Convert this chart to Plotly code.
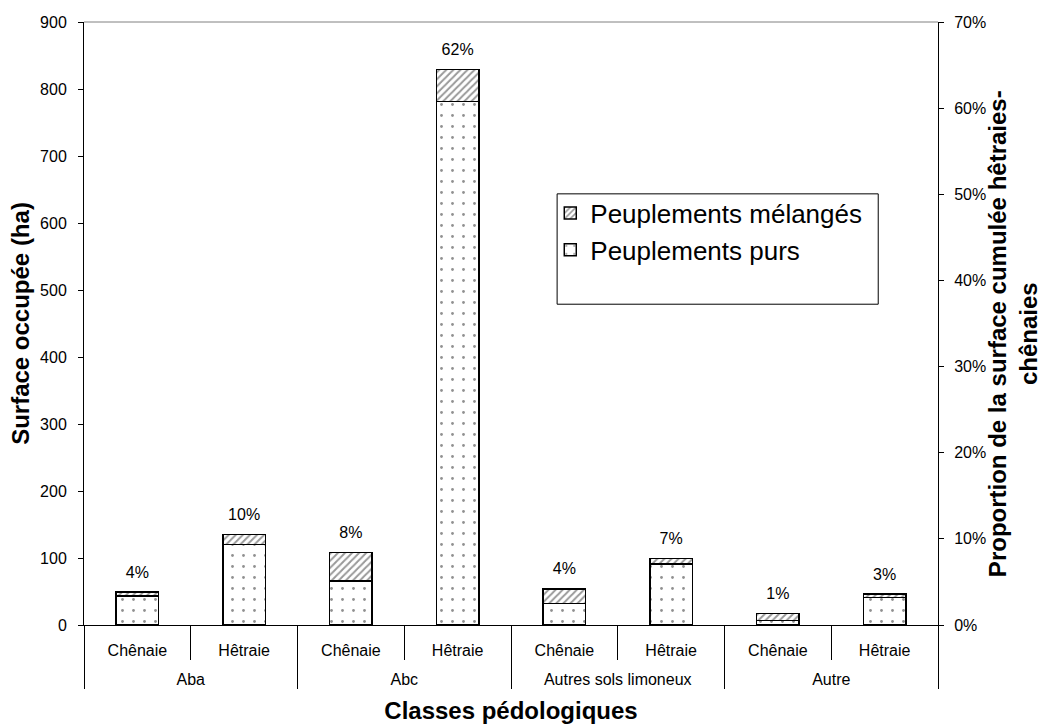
import plotly.graph_objects as go

groups = ["Aba", "Aba", "Abc", "Abc", "Autres sols limoneux", "Autres sols limoneux", "Autre", "Autre"]
types = ["Chênaie", "Hêtraie"] * 4
pure = [43, 120, 66, 781, 32, 91, 7, 41]
mixed = [6, 15, 42, 48, 22, 8, 10, 5]
pct_labels = ["4%", "10%", "8%", "62%", "4%", "7%", "1%", "3%"]

totals = [p + m for p, m in zip(pure, mixed)]
group_display = ["<br>" + g for g in groups]
x = [group_display, types]
font = "Liberation Sans, Arial, sans-serif"

fig = go.Figure()
fig.add_trace(go.Bar(
    x=x, y=pure, name="Peuplements purs", width=0.40,
    marker=dict(color="white", line=dict(color="black", width=1.5),
                pattern=dict(shape=".", fgcolor="#222222", bgcolor="white", size=11, solidity=0.05)),
))
fig.add_trace(go.Bar(
    x=x, y=mixed, name="Peuplements mélangés", width=0.40,
    marker=dict(color="white", line=dict(color="black", width=1.5),
                pattern=dict(shape="/", fgcolor="#333333", bgcolor="white", size=5, solidity=0.4)),
))
fig.add_trace(go.Scatter(
    x=x, y=totals, mode="markers+text", text=pct_labels, textposition="top center",
    marker=dict(size=15, opacity=0), showlegend=False, hoverinfo="skip",
    textfont=dict(family=font, size=16, color="black"),
))
fig.add_trace(go.Scatter(x=x, y=[None] * 8, yaxis="y2", showlegend=False, hoverinfo="skip"))

fig.update_layout(
    width=1045, height=726,
    barmode="stack",
    plot_bgcolor="white", paper_bgcolor="white",
    margin=dict(l=84, r=107, t=22, b=101),
    font=dict(family=font, size=16, color="black"),
    showlegend=True,
    legend=dict(x=0.546, y=0.722, xanchor="left", yanchor="top", traceorder="reversed",
                font=dict(size=26, family=font), bgcolor="rgba(0,0,0,0)", borderwidth=0,
                tracegroupgap=0),
    xaxis=dict(type="multicategory", showline=True, linecolor="black", linewidth=1,
               ticks="outside", tickson="boundaries", ticklen=34, tickcolor="black",
               showdividers=True, dividercolor="black", dividerwidth=1,
               tickfont=dict(size=16, family=font), showgrid=False, automargin=False,
               ticklabelstandoff=11,
               title=dict(text="<b>Classes pédologiques</b>", font=dict(size=24, family=font), standoff=15)),
    yaxis=dict(range=[0, 900], dtick=100, showline=True, linecolor="black", linewidth=1,
               ticks="outside", ticklen=5, tickcolor="black", showgrid=False, zeroline=False,
               tickfont=dict(size=16, family=font), automargin=False, ticklabelstandoff=8,
               title=dict(text="<b>Surface occupée (ha)</b>", font=dict(size=24, family=font), standoff=3)),
    yaxis2=dict(range=[0, 0.7], dtick=0.1, tickformat=".0%", overlaying="y", side="right",
                showline=True, linecolor="black", linewidth=1, ticks="outside", ticklen=5,
                tickcolor="black", showgrid=False, zeroline=False, automargin=False,
                tickfont=dict(size=16, family=font), ticklabelstandoff=7),
    annotations=[dict(text="<b>Proportion de la surface cumulée hêtraies-<br>chênaies</b>",
                      xref="paper", yref="paper", x=1.0878, y=0.484, textangle=-90,
                      xanchor="center", yanchor="middle", showarrow=False, align="center",
                      font=dict(size=24, family=font, color="black"))],
    shapes=[
        dict(type="rect", xref="paper", yref="paper", x0=0.554, x1=0.930, y0=0.532, y1=0.715,
             line=dict(color="black", width=1), fillcolor="rgba(0,0,0,0)", layer="below"),
        dict(type="line", xref="paper", yref="paper", x0=0, x1=1, y0=1, y1=1,
             line=dict(color="#808080", width=1)),
    ],
)

fig.write_html("out.html", config={"displayModeBar": False},
               post_script="document.body.style.margin='0';document.body.style.overflow='hidden';")
